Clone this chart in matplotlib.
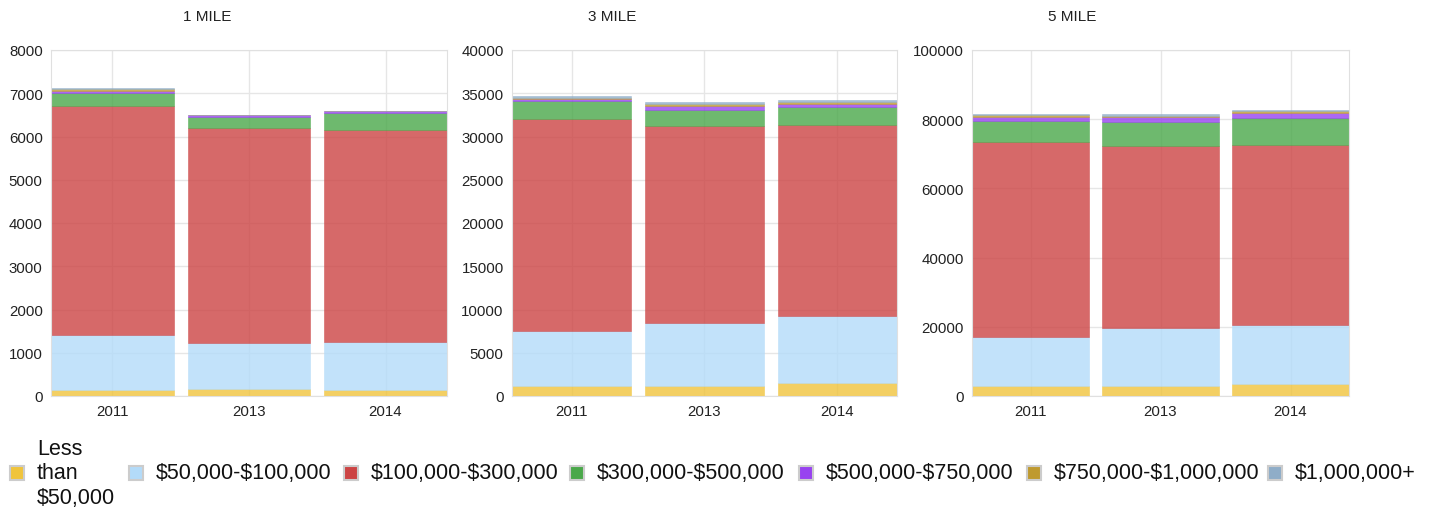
import numpy as np
import matplotlib
matplotlib.use("Agg")
import matplotlib.pyplot as plt
from matplotlib.patches import Rectangle

plt.rcParams["font.family"] = ["Liberation Sans", "DejaVu Sans"]
plt.rcParams["text.parse_math"] = False

# Data
years = ["2011", "2013", "2014"]
panels = ["1 MILE", "3 MILE", "5 MILE"]
bands = ["Less\nthan\n$50,000", "$50,000-$100,000", "$100,000-$300,000",
         "$300,000-$500,000", "$500,000-$750,000", "$750,000-$1,000,000",
         "$1,000,000+"]
colors = ["#f0c43c", "#b3dbf9", "#cc4444", "#4aa84a", "#9842f0", "#bf9a30", "#8fadc8"]

# one list per band, values for 2011, 2013, 2014
mile1_less50k = [140, 160, 140]
mile1_50_100k = [1277, 1065, 1100]
mile1_100_300k = [5281, 4965, 4916]
mile1_300_500k = [312, 268, 386]
mile1_500_750k = [50, 39, 39]
mile1_750k_1m = [45, 5, 5]
mile1_1m_plus = [25, 5, 5]

mile3_less50k = [1120, 1156, 1500]
mile3_50_100k = [6360, 7244, 7780]
mile3_100_300k = [24580, 22780, 22050]
mile3_300_500k = [2010, 1920, 2040]
mile3_500_750k = [265, 460, 430]
mile3_750k_1m = [150, 200, 245]
mile3_1m_plus = [165, 190, 175]

mile5_less50k = [2800, 2980, 3380]
mile5_50_100k = [14160, 16580, 17140]
mile5_100_300k = [56540, 52780, 52110]
mile5_300_500k = [6070, 6760, 7630]
mile5_500_750k = [1150, 1450, 1440]
mile5_750k_1m = [410, 480, 530]
mile5_1m_plus = [370, 470, 520]

series = [
    [mile1_less50k, mile1_50_100k, mile1_100_300k, mile1_300_500k,
     mile1_500_750k, mile1_750k_1m, mile1_1m_plus],
    [mile3_less50k, mile3_50_100k, mile3_100_300k, mile3_300_500k,
     mile3_500_750k, mile3_750k_1m, mile3_1m_plus],
    [mile5_less50k, mile5_50_100k, mile5_100_300k, mile5_300_500k,
     mile5_500_750k, mile5_750k_1m, mile5_1m_plus],
]
y_max = [8000, 40000, 100000]
y_step = [1000, 5000, 20000]

W, H = 1431, 510
fig = plt.figure(figsize=(W / 100, H / 100), dpi=100)

# axes frames in pixels: (left, right)
frames = [(51, 447), (512, 897), (972, 1349)]
top_px, bottom_px = 51, 397
title_x = [207, 612, 1072]

for i, (left, right) in enumerate(frames):
    ax = fig.add_axes([left / W, (H - bottom_px) / H,
                       (right - left) / W, (bottom_px - top_px) / H])
    x = np.arange(len(years))
    bottom = np.zeros(len(years))
    for vals, c in zip(series[i], colors):
        ax.bar(x, vals, width=0.9, bottom=bottom, color=c, alpha=0.8,
               edgecolor=c, linewidth=0.4, zorder=2)
        bottom += np.array(vals)
    ax.set_xlim(-0.45, 2.45)
    ax.set_ylim(0, y_max[i])
    ax.set_yticks(np.arange(0, y_max[i] + 1, y_step[i]))
    ax.set_xticks(x)
    ax.set_xticklabels(years)
    ax.grid(True, color="#e6e6e6", linewidth=1, zorder=0)
    ax.set_axisbelow(True)
    for s in ax.spines.values():
        s.set_color("#e0e0e0")
    ax.tick_params(length=0, labelsize=10.8, colors="#222222", pad=6)
    fig.text(title_x[i] / W, 1 - 17 / H, panels[i], ha="center", va="center",
             fontsize=11, color="#222222")

# legend drawn in pixel coordinates
lg = fig.add_axes([0, 0, 1, 1], zorder=5)
lg.set_xlim(0, W)
lg.set_ylim(H, 0)
lg.axis("off")
lg.patch.set_alpha(0)
swatch_x = [10, 129, 344, 570, 799, 1027, 1268]
leg_y = 474
for sx, c, lab in zip(swatch_x, colors, bands):
    lg.add_patch(Rectangle((sx, leg_y - 7), 14, 14, facecolor=c,
                           edgecolor="#cccccc", linewidth=1.5))
    lg.text(sx + 27, leg_y, lab, ha="left", va="center", fontsize=15.5,
            color="#111111", linespacing=1.2)

fig.savefig("out.png", dpi=100)
